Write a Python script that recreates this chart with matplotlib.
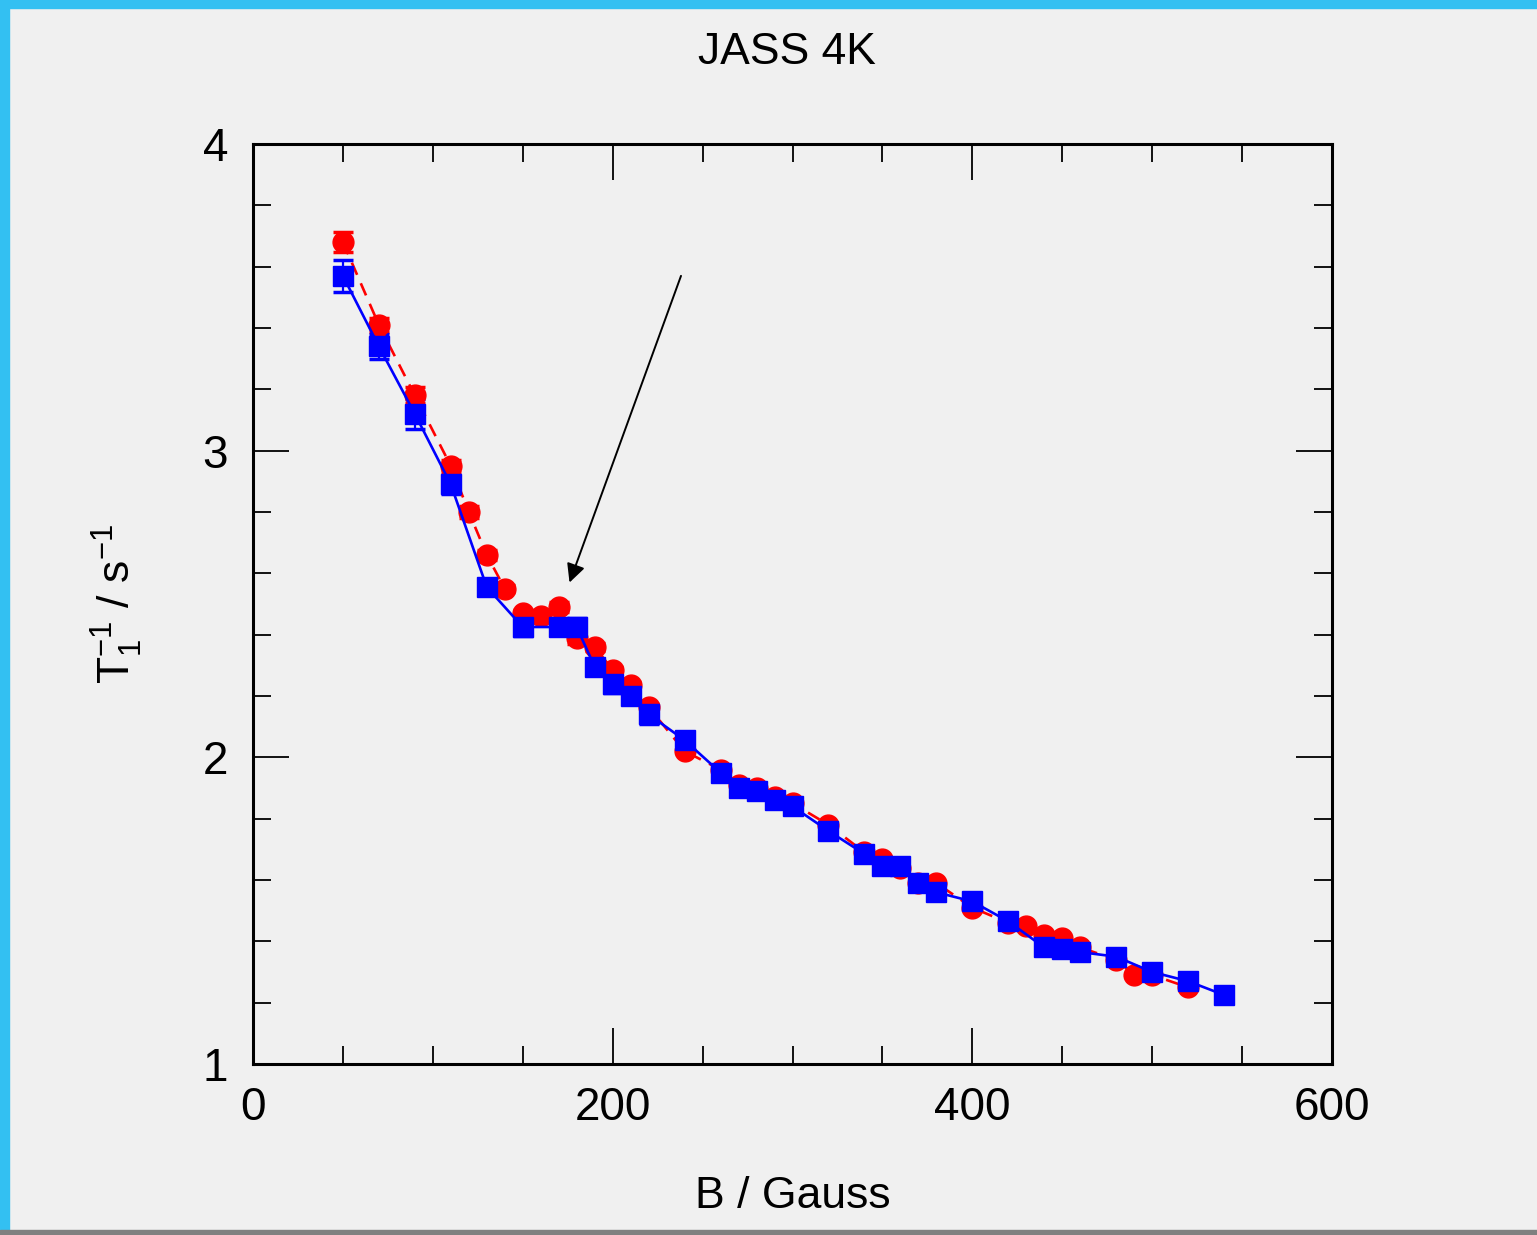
import matplotlib
matplotlib.use("Agg")
import matplotlib.pyplot as plt
from matplotlib.ticker import MultipleLocator
from matplotlib.patches import Rectangle

plt.rcParams['font.family'] = ['Liberation Sans', 'DejaVu Sans']
plt.rcParams['mathtext.fontset'] = 'custom'
plt.rcParams['mathtext.rm'] = 'Liberation Sans'
plt.rcParams['mathtext.it'] = 'Liberation Sans'

# relaxation rate vs field, two runs
b_red = [50, 70, 90, 110, 120, 130, 140, 150, 160, 170, 180, 190, 200, 210, 220,
         240, 260, 270, 280, 290, 300, 320, 340, 350, 360, 370, 380, 400, 420,
         430, 440, 450, 460, 480, 490, 500, 520]
rate_red = [3.68, 3.41, 3.18, 2.95, 2.80, 2.66, 2.55, 2.47, 2.46, 2.49, 2.39, 2.36,
            2.285, 2.236, 2.164, 2.02, 1.96, 1.91, 1.90, 1.87, 1.85, 1.78, 1.69,
            1.67, 1.64, 1.59, 1.59, 1.51, 1.46, 1.45, 1.42, 1.41, 1.38, 1.34,
            1.29, 1.29, 1.25]
err_red = [0.033, 0.023, 0.026, 0.018, 0.02, 0.015, 0.012, 0.012, 0.012, 0.015,
           0.02, 0.012, 0.01, 0.01, 0.01, 0.005, 0.005, 0.005, 0.005, 0.005,
           0.005, 0.005, 0.005, 0.005, 0.005, 0.005, 0.005, 0.005, 0.005, 0.005,
           0.005, 0.005, 0.005, 0.005, 0.005, 0.005, 0.005]

b_blue = [50, 70, 90, 110, 130, 150, 170, 180, 190, 200, 210, 220, 240, 260, 270,
          280, 290, 300, 320, 340, 350, 360, 370, 380, 400, 420, 440, 450, 460,
          480, 500, 520, 540]
rate_blue = [3.57, 3.34, 3.12, 2.89, 2.555, 2.425, 2.425, 2.425, 2.295, 2.24, 2.20,
             2.14, 2.056, 1.95, 1.90, 1.89, 1.86, 1.84, 1.76, 1.685, 1.645, 1.645,
             1.59, 1.56, 1.53, 1.465, 1.38, 1.375, 1.365, 1.35, 1.30, 1.27, 1.225]
err_blue = [0.053, 0.04, 0.05, 0.03, 0.012, 0.03, 0.012, 0.03, 0.012, 0.03, 0.012,
            0.03, 0.012, 0.005, 0.005, 0.005, 0.005, 0.005, 0.005, 0.005, 0.005,
            0.005, 0.005, 0.005, 0.005, 0.005, 0.005, 0.005, 0.005, 0.005, 0.005,
            0.005, 0.005]

bg = '#f0f0f0'
fig = plt.figure(figsize=(15.37, 12.35), dpi=100, facecolor=bg)
ax = fig.add_axes([253 / 1537, 1 - 1064 / 1235, 1079 / 1537, 920 / 1235])
ax.set_facecolor(bg)

ax.errorbar(b_red, rate_red, yerr=err_red, color='red', ls='--', lw=1.9,
            marker='o', ms=15, capsize=7.5, elinewidth=1.6, capthick=2.5,
            dashes=(5, 3.5))
ax.errorbar(b_blue, rate_blue, yerr=err_blue, color='blue', ls='-', lw=1.9,
            marker='s', ms=15, capsize=7.5, elinewidth=1.6, capthick=2.5)

ax.annotate('', xy=(176, 2.57), xytext=(238, 3.57),
            arrowprops=dict(arrowstyle='-|>', color='black', lw=1.4,
                            mutation_scale=28, shrinkA=0, shrinkB=0))

ax.set_xlim(0, 600)
ax.set_ylim(1, 4)
ax.xaxis.set_major_locator(MultipleLocator(200))
ax.xaxis.set_minor_locator(MultipleLocator(50))
ax.yaxis.set_major_locator(MultipleLocator(1))
ax.yaxis.set_minor_locator(MultipleLocator(0.2))
ax.tick_params(which='both', direction='in', top=True, right=True,
               labelsize=33, width=1.3, color='black')
ax.tick_params(which='major', length=26)
ax.tick_params(axis='x', which='major', pad=16)
ax.tick_params(axis='y', which='major', pad=18)
ax.tick_params(which='minor', length=13)
for s in ax.spines.values():
    s.set_linewidth(2.2)

ax.set_xlabel('B / Gauss', fontsize=32)
ax.xaxis.set_label_coords(0.5, -0.122)
ax.set_ylabel(r'T$_1^{-1}$ / s$^{-1}$', fontsize=32)
ax.yaxis.set_label_coords(-0.1, 0.5)
ax.text(0.495, 1.1, 'JASS 4K', transform=ax.transAxes, ha='center',
        va='center', fontsize=32)

# frame strips
fig.patches.append(Rectangle((0, 1 - 8 / 1235), 1, 8 / 1235,
                             transform=fig.transFigure, color='#33c0f2'))
fig.patches.append(Rectangle((0, 0), 9 / 1537, 1,
                             transform=fig.transFigure, color='#33c0f2'))
fig.patches.append(Rectangle((0, 0), 1, 5 / 1235,
                             transform=fig.transFigure, color='#808080'))

fig.savefig('out.png', dpi=100, facecolor=bg)
